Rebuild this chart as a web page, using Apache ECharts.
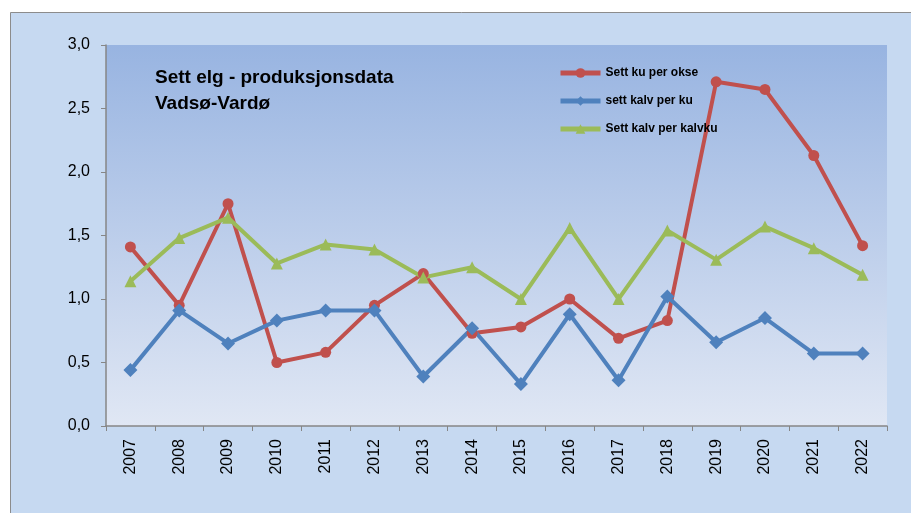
<!DOCTYPE html>
<html>
<head>
<meta charset="utf-8">
<script src="https://cdn.jsdelivr.net/npm/echarts@6/dist/echarts.min.js"></script>
<style>
  html, body { margin: 0; padding: 0; background: #fff; }
  #chart { width: 911px; height: 513px; }
</style>
</head>
<body>
<div id="chart"></div>
<script>
// data
const years = ["2007", "2008", "2009", "2010", "2011", "2012", "2013", "2014",
  "2015", "2016", "2017", "2018", "2019", "2020", "2021", "2022"];
const kuPerOkse = [1.41, 0.95, 1.75, 0.50, 0.58, 0.95, 1.20, 0.73, 0.78, 1.00, 0.69, 0.83, 2.71, 2.65, 2.13, 1.42];
const kalvPerKu = [0.44, 0.91, 0.65, 0.83, 0.91, 0.91, 0.39, 0.77, 0.33, 0.88, 0.36, 1.02, 0.66, 0.85, 0.57, 0.57];
const kalvPerKalvku = [1.14, 1.48, 1.64, 1.28, 1.43, 1.39, 1.17, 1.25, 1.00, 1.56, 1.00, 1.54, 1.31, 1.57, 1.40, 1.19];
const yTicks = [0, 0.5, 1, 1.5, 2, 2.5, 3];

const chart = echarts.init(document.getElementById("chart"));

const font = "'Liberation Sans', 'DejaVu Sans', sans-serif";

function lineSeries(name, data, color, symbol, size) {
  return {
    name: name,
    type: "line",
    data: data,
    symbol: symbol,
    symbolSize: size,
    lineStyle: { color: color, width: 4 },
    itemStyle: { color: color },
    z: 3,
  };
}

const option = {
  animation: false,
  backgroundColor: "#fff",
  graphic: [
    {
      type: "rect",
      left: 10,
      top: 12,
      shape: { width: 920, height: 520 },
      style: { fill: "#c6d9f1", stroke: "#8c8c8c", lineWidth: 1 },
      z: -10,
    },
    {
      type: "text",
      left: 155,
      top: 65,
      style: {
        text: "Sett elg - produksjonsdata\nVadsø-Vardø",
        font: "bold 19px " + font,
        lineHeight: 26,
        fill: "#000",
      },
      z: 10,
    },
  ],
  grid: {
    left: 106,
    right: 24,
    top: 45,
    bottom: 87,
    show: true,
    borderWidth: 0,
    backgroundColor: new echarts.graphic.LinearGradient(0, 0, 0, 1, [
      { offset: 0, color: "#98b4e1" },
      { offset: 1, color: "#e0e7f4" },
    ]),
  },
  legend: {
    orient: "vertical",
    left: 558,
    top: 67,
    padding: 0,
    itemWidth: 40,
    itemHeight: 12,
    itemGap: 16,
    lineStyle: { width: 5 },
    textStyle: { fontFamily: font, fontWeight: "bold", fontSize: 12, color: "#000" },
    data: ["Sett ku per okse", "sett kalv per ku", "Sett kalv per kalvku"],
  },
  xAxis: {
    type: "category",
    data: years,
    boundaryGap: true,
    axisLine: { lineStyle: { color: "#868686", width: 1.5 } },
    axisTick: { show: true, length: 5, lineStyle: { color: "#868686" } },
    axisLabel: {
      rotate: 90,
      color: "#000",
      fontFamily: font,
      fontSize: 16,
      margin: 13,
    },
    splitLine: { show: false },
  },
  yAxis: {
    type: "value",
    min: 0,
    max: 3,
    interval: 0.5,
    axisLine: { show: true, lineStyle: { color: "#868686", width: 1.5 } },
    axisTick: { show: true, length: 5, lineStyle: { color: "#868686" } },
    axisLabel: {
      color: "#000",
      fontFamily: font,
      fontSize: 16,
      margin: 16,
      formatter: v => yTicks.includes(v) ? v.toFixed(1).replace(".", ",") : "",
    },
    splitLine: { show: false },
  },
  series: [
    lineSeries("Sett ku per okse", kuPerOkse, "#c0504d", "circle", 11),
    lineSeries("sett kalv per ku", kalvPerKu, "#4f81bd", "diamond", 14),
    lineSeries("Sett kalv per kalvku", kalvPerKalvku, "#9bbb59", "triangle", 12),
  ],
};

chart.setOption(option);
</script>
</body>
</html>
